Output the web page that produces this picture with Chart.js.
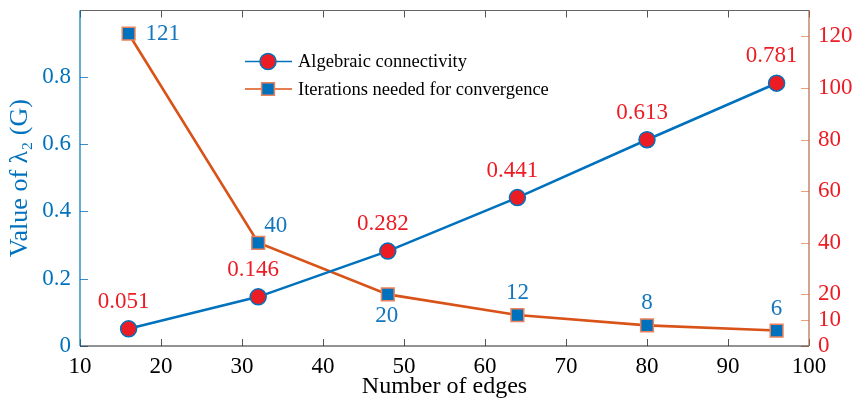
<!DOCTYPE html>
<html>
<head>
<meta charset="utf-8">
<script src="https://cdn.jsdelivr.net/npm/chart.js@4.4.1/dist/chart.umd.min.js"></script>
<style>
  html, body { margin: 0; padding: 0; background: #fff; }
  #wrap { width: 860px; height: 404px; position: relative; }
</style>
</head>
<body>
<div id="wrap"><canvas id="c" width="860" height="404"></canvas></div>
<script>
// ---- data ----
const edges = [16, 32, 48, 64, 80, 96];
const connectivity = [0.051, 0.146, 0.282, 0.441, 0.613, 0.781];
const iterations = [121, 40, 20, 12, 8, 6];
const xTicks = [10, 20, 30, 40, 50, 60, 70, 80, 90, 100];
const leftTicks = [0, 0.2, 0.4, 0.6, 0.8];
const rightTicks = [0, 10, 20, 40, 60, 80, 100, 120];
const seriesNames = ['Algebraic connectivity', 'Iterations needed for convergence'];

// ---- styles ----
const BLUE = 'rgb(0,114,189)';
const ORANGE = 'rgb(217,83,25)';
const RED = '#ec1c24';
const LABEL_BLUE = 'rgb(20,118,190)';
const FONT = "'Liberation Serif', 'DejaVu Serif', serif";

// placement of iteration labels relative to their marker
const iterPlacement = ['right', 'upright', 'below', 'above', 'above', 'above'];

const framePlugin = {
  id: 'frame',
  beforeDatasetsDraw(chart) {
    const { ctx, chartArea: a, scales } = chart;
    ctx.save();
    ctx.lineWidth = 1;
    // x ticks inward (bottom and top)
    ctx.strokeStyle = '#555';
    xTicks.forEach(v => {
      const px = Math.round(scales.x.getPixelForValue(v)) + 0.5;
      ctx.beginPath();
      ctx.moveTo(px, a.bottom); ctx.lineTo(px, a.bottom - 7);
      ctx.moveTo(px, a.top); ctx.lineTo(px, a.top + 7);
      ctx.stroke();
    });
    // left ticks
    ctx.strokeStyle = 'rgb(60,140,200)';
    leftTicks.forEach(v => {
      const py = Math.round(scales.y.getPixelForValue(v)) + 0.5;
      ctx.beginPath(); ctx.moveTo(a.left, py); ctx.lineTo(a.left + 8, py); ctx.stroke();
    });
    // right ticks
    ctx.strokeStyle = 'rgb(240,160,120)';
    rightTicks.forEach(v => {
      const py = Math.round(scales.y1.getPixelForValue(v)) + 0.5;
      ctx.beginPath(); ctx.moveTo(a.right, py); ctx.lineTo(a.right - 8, py); ctx.stroke();
    });
    // frame
    ctx.lineWidth = 1.2;
    ctx.strokeStyle = '#666';
    ctx.beginPath(); ctx.moveTo(a.left, a.top); ctx.lineTo(a.right, a.top); ctx.stroke();
    ctx.strokeStyle = '#262626';
    ctx.beginPath(); ctx.moveTo(a.left, a.bottom); ctx.lineTo(a.right, a.bottom); ctx.stroke();
    ctx.strokeStyle = BLUE;
    ctx.beginPath(); ctx.moveTo(a.left, a.top); ctx.lineTo(a.left, a.bottom); ctx.stroke();
    ctx.strokeStyle = 'rgb(180,105,75)';
    ctx.beginPath(); ctx.moveTo(a.right, a.top); ctx.lineTo(a.right, a.bottom); ctx.stroke();
    ctx.restore();
  },
  afterDatasetsDraw(chart) {
    const { ctx } = chart;
    ctx.save();
    ctx.font = '23px ' + FONT;
    ctx.textBaseline = 'middle';
    // connectivity labels
    const m0 = chart.getDatasetMeta(0);
    ctx.fillStyle = RED;
    ctx.textAlign = 'center';
    m0.data.forEach((pt, i) => {
      ctx.fillText(connectivity[i].toFixed(3), pt.x - 5, pt.y - 27);
    });
    // iteration labels
    const m1 = chart.getDatasetMeta(1);
    ctx.fillStyle = LABEL_BLUE;
    m1.data.forEach((pt, i) => {
      const t = String(iterations[i]);
      const p = iterPlacement[i];
      if (p === 'right') { ctx.textAlign = 'left'; ctx.fillText(t, pt.x + 17, pt.y); }
      else if (p === 'upright') { ctx.textAlign = 'left'; ctx.fillText(t, pt.x + 6, pt.y - 17); }
      else if (p === 'below') { ctx.textAlign = 'center'; ctx.fillText(t, pt.x - 1, pt.y + 22); }
      else { ctx.textAlign = 'center'; ctx.fillText(t, pt.x, pt.y - 22); }
    });
    // legend
    const lx0 = 245, lx1 = 292, mx = 268, tx = 298, rows = [61.5, 89];
    ctx.font = '18.5px ' + FONT;
    ctx.textAlign = 'left';
    chart.data.datasets.forEach((ds, i) => {
      const y = rows[i];
      ctx.strokeStyle = ds.borderColor;
      ctx.lineWidth = 1.5;
      ctx.beginPath(); ctx.moveTo(lx0, y); ctx.lineTo(lx1, y); ctx.stroke();
      ctx.fillStyle = ds.pointBackgroundColor;
      ctx.strokeStyle = ds.pointBorderColor;
      ctx.lineWidth = ds.pointBorderWidth;
      ctx.beginPath();
      if (ds.pointStyle === 'rect') {
        const s = ds.pointRadius * Math.SQRT1_2;
        ctx.rect(mx - s, y - s, 2 * s, 2 * s);
      } else {
        ctx.arc(mx, y, ds.pointRadius, 0, Math.PI * 2);
      }
      ctx.fill(); ctx.stroke();
      ctx.fillStyle = '#000';
      ctx.fillText(ds.label, tx, y + 1);
    });
    ctx.restore();
  }
};

function fixed(dim, size) {
  return function (s) {
    s[dim] = size;
    s.paddingTop = 0; s.paddingBottom = 0; s.paddingLeft = 0; s.paddingRight = 0;
  };
}

new Chart(document.getElementById('c'), {
  type: 'line',
  data: {
    datasets: [
      {
        label: seriesNames[0],
        data: edges.map((x, i) => ({ x, y: connectivity[i] })),
        yAxisID: 'y',
        borderColor: BLUE,
        borderWidth: 2.6,
        pointStyle: 'circle',
        pointRadius: 8,
        pointBackgroundColor: RED,
        pointBorderColor: BLUE,
        pointBorderWidth: 1.5,
        tension: 0
      },
      {
        label: seriesNames[1],
        data: edges.map((x, i) => ({ x, y: iterations[i] })),
        yAxisID: 'y1',
        borderColor: ORANGE,
        borderWidth: 2.6,
        pointStyle: 'rect',
        pointRadius: 9,
        pointBackgroundColor: BLUE,
        pointBorderColor: 'rgb(235,130,90)',
        pointBorderWidth: 1.5,
        tension: 0
      }
    ]
  },
  options: {
    responsive: false,
    animation: false,
    devicePixelRatio: 1,
    layout: { padding: { top: 7.5, left: 0, right: 0, bottom: 0 } },
    plugins: { legend: { display: false }, tooltip: { enabled: false } },
    scales: {
      x: {
        type: 'linear', position: 'bottom', min: 10, max: 100,
        afterBuildTicks: s => { s.ticks = xTicks.map(v => ({ value: v })); },
        afterFit: fixed('height', 58),
        grid: { display: false, drawTicks: false },
        border: { display: false },
        ticks: { color: '#000', font: { family: FONT, size: 23 }, padding: 7, maxRotation: 0, autoSkip: false },
        title: { display: true, text: 'Number of edges', color: '#000', font: { family: FONT, size: 24 }, padding: { top: 0, bottom: 3 } }
      },
      y: {
        type: 'linear', position: 'left', min: 0, max: 0.997,
        afterBuildTicks: s => { s.ticks = leftTicks.map(v => ({ value: v })); },
        afterFit: fixed('width', 80),
        grid: { display: false, drawTicks: false },
        border: { display: false },
        ticks: { color: BLUE, font: { family: FONT, size: 23 }, padding: 9, callback: v => String(v) },
        title: { display: true, text: 'Value of λ₂ (G)', color: BLUE, font: { family: FONT, size: 26 }, padding: { top: 5, bottom: 0 } }
      },
      y1: {
        type: 'linear', position: 'right', min: 0, max: 130,
        afterBuildTicks: s => { s.ticks = rightTicks.map(v => ({ value: v })); },
        afterFit: fixed('width', 51),
        grid: { display: false, drawTicks: false },
        border: { display: false },
        ticks: { color: RED, font: { family: FONT, size: 23 }, padding: 9, callback: v => String(v) }
      }
    }
  },
  plugins: [framePlugin]
});
</script>
</body>
</html>
